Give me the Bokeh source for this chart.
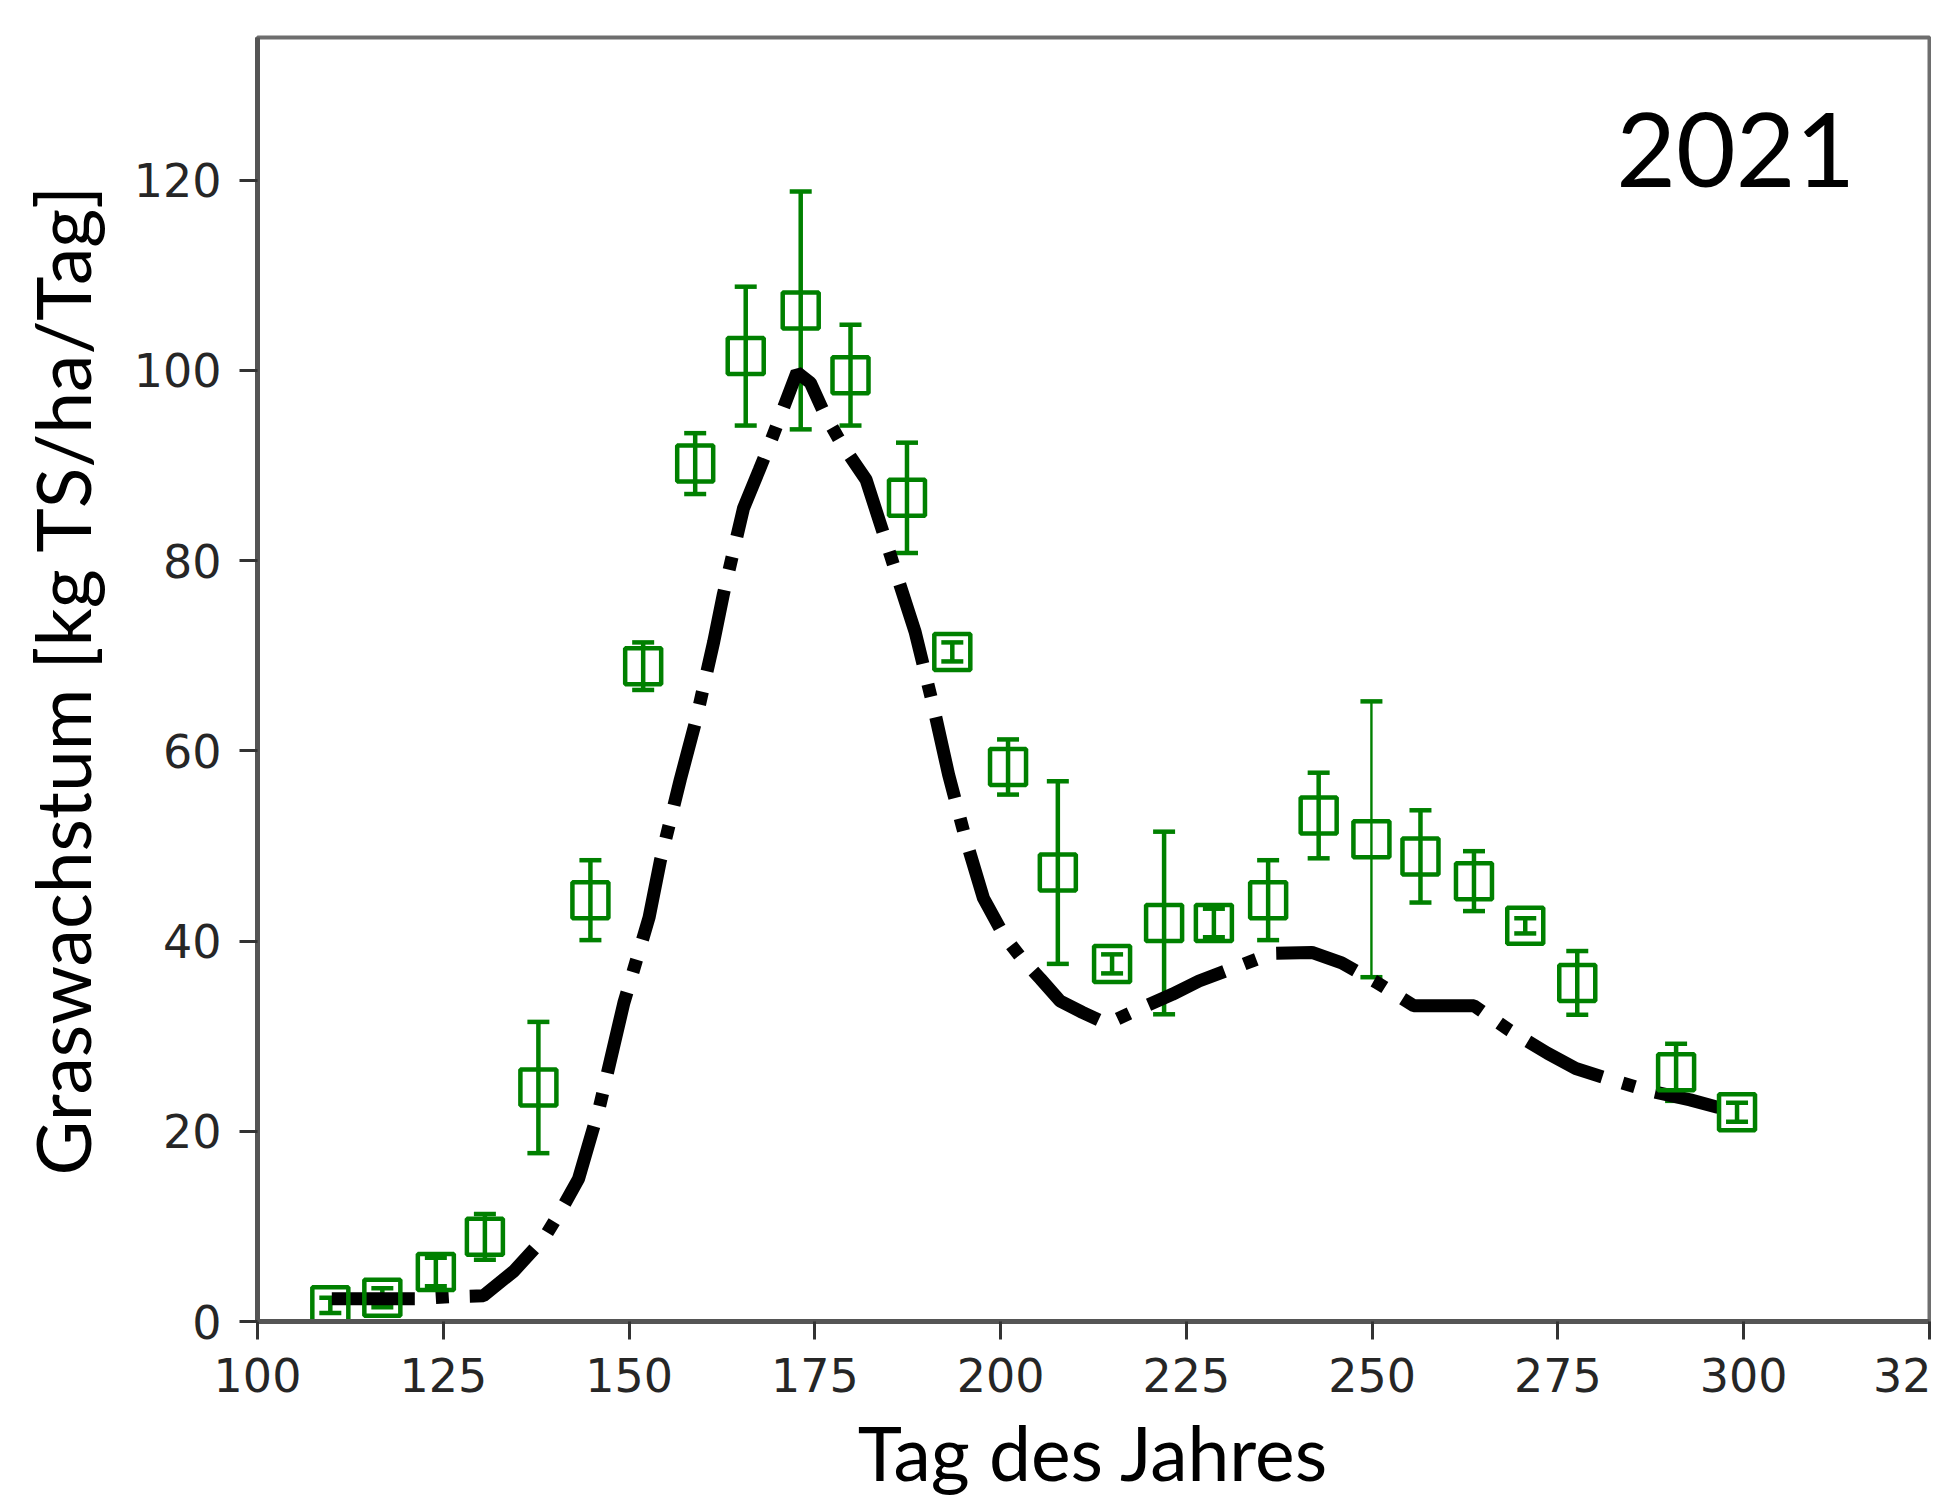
from bokeh.plotting import figure
from bokeh.models import ColumnDataSource, FixedTicker, Whisker, TeeHead, Label
from bokeh.embed import file_html
from bokeh.resources import INLINE

# observed grass growth (green squares with error bars)
obs_day = [109.8, 116.8, 124.0, 130.6, 137.8, 144.8, 151.9, 158.9, 165.7, 173.1,
           179.8, 187.4, 193.5, 201.0, 207.7, 215.0, 222.0, 228.7, 236.0, 242.8,
           249.9, 256.5, 263.7, 270.6, 277.6, 290.9, 299.1]
obs_val = [1.7, 2.5, 5.2, 8.9, 24.6, 44.3, 68.9, 90.2, 101.5, 106.3,
           99.5, 86.6, 70.4, 58.3, 47.2, 37.6, 41.9, 41.9, 44.3, 53.2,
           50.7, 48.9, 46.3, 41.6, 35.6, 26.2, 22.0]
obs_err = [0.8, 1.0, 1.5, 2.4, 6.9, 4.2, 2.5, 3.2, 7.3, 12.5,
           5.3, 5.8, 1.0, 2.9, 9.6, 1.0, 9.6, 1.5, 4.2, 4.5,
           14.5, 4.85, 3.15, 0.8, 3.35, 3.0, 1.0]

# modelled grass growth (black dash-dot line)
mod_day = [110.0, 121.7, 125.8, 130.4, 134.5, 138.6, 141.0, 143.2, 146.0, 149.3,
           152.7, 154.2, 156.9, 159.0, 161.4, 162.7, 165.4, 167.5, 169.0, 172.6,
           174.4, 176.2, 178.5, 181.9, 185.2, 188.5, 191.0, 193.0, 195.2, 197.7,
           200.5, 202.7, 205.4, 208.0, 211.0, 214.3, 219.0, 223.1, 226.7, 231.8,
           236.5, 241.9, 245.9, 250.5, 255.6, 259.7, 263.7, 268.5, 273.6, 277.4,
           281.4, 287.0, 292.8, 296.6]
mod_val = [2.4, 2.4, 2.6, 2.7, 5.3, 8.8, 11.9, 15.0, 22.5, 33.5,
           42.5, 48.4, 57.0, 63.2, 71.5, 76.5, 85.5, 89.5, 92.4, 99.8,
           98.7, 95.6, 92.4, 88.5, 80.5, 72.5, 64.5, 57.5, 51.0, 44.5,
           40.5, 38.3, 36.0, 33.7, 32.5, 31.3, 33.0, 34.4, 35.8, 37.3,
           38.7, 38.8, 37.7, 35.7, 33.2, 33.2, 33.2, 30.6, 28.2, 26.6,
           25.6, 24.3, 23.3, 22.5]

x_ticks = [100, 125, 150, 175, 200, 225, 250, 275, 300, 325]
x_tick_text = {325: "32"}   # the last label is cut off by the picture edge
y_ticks = [0, 20, 40, 60, 80, 100, 120]

GREEN = "#008000"


def subset(idx):
    return ColumnDataSource(data=dict(
        x=[obs_day[i] for i in idx],
        lo=[obs_val[i] - obs_err[i] for i in idx],
        hi=[obs_val[i] + obs_err[i] for i in idx],
    ))


src = ColumnDataSource(data=dict(x=obs_day, y=obs_val))

p = figure(width=1931, height=1499, x_range=(100, 325), y_range=(0, 135),
           output_backend="svg", toolbar_location=None,
           min_border_left=257, min_border_right=2, min_border_top=37, min_border_bottom=174)

p.xgrid.visible = False
p.ygrid.visible = False
p.outline_line_color = "#6e6e6e"
p.outline_line_width = 4

# model line
p.line(mod_day, mod_val, line_color="black", line_width=13, line_dash="83 21 13 21", line_cap="butt")

# error bars (the largest one is drawn with a thinner line)
thick_idx = [i for i, e in enumerate(obs_err) if e < 14]
thin_idx = [i for i, e in enumerate(obs_err) if e >= 14]
for idx, lw in ((thick_idx, 4.5), (thin_idx, 2.4)):
    w = Whisker(source=subset(idx), base="x", lower="lo", upper="hi", dimension="height",
                line_color=GREEN, line_width=lw,
                upper_head=TeeHead(size=22, line_color=GREEN, line_width=4.5),
                lower_head=TeeHead(size=22, line_color=GREEN, line_width=4.5))
    p.add_layout(w)

p.scatter("x", "y", source=src, marker="square", size=36, fill_color=None,
          line_color=GREEN, line_width=4.5)

# year label
p.add_layout(Label(x=315, y=123.2, text="2021", text_align="right", text_baseline="alphabetic",
                   text_font="Lato", text_font_size="103px", text_color="black"))

for ax in (p.xaxis[0], p.yaxis[0]):
    ax.axis_line_color = "#555555"
    ax.axis_line_width = 5
    ax.major_tick_line_color = "#333333"
    ax.major_tick_line_width = 3
    ax.major_tick_out = 18
    ax.major_tick_in = 0
    ax.minor_tick_line_color = None
    ax.major_label_text_font = "DejaVu Sans"
    ax.major_label_text_font_size = "46px"
    ax.major_label_text_color = "#262626"
    ax.major_label_standoff = 18
    ax.axis_label_text_font = "Lato"
    ax.axis_label_text_font_size = "75px"
    ax.axis_label_text_font_style = "normal"
    ax.axis_label_text_color = "black"

p.xaxis.ticker = FixedTicker(ticks=x_ticks)
p.xaxis.major_label_overrides = x_tick_text
p.yaxis.ticker = FixedTicker(ticks=y_ticks)
p.xaxis.axis_label = "Tag des Jahres"
p.yaxis.axis_label = "Graswachstum [kg TS/ha/Tag]"
p.xaxis.axis_label_standoff = 12
p.yaxis.axis_label_standoff = 24

open("out.html", "w").write(file_html(p, INLINE))
